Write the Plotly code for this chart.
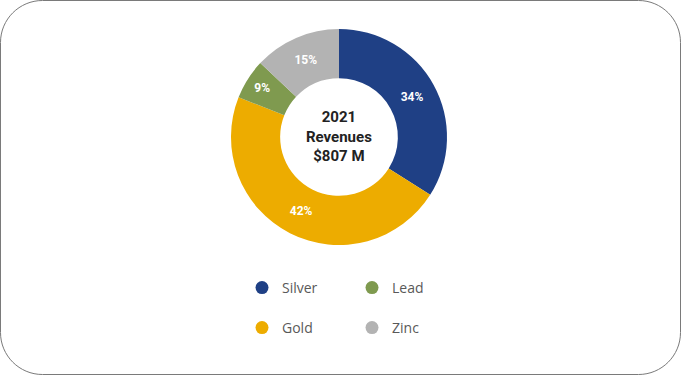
import plotly.graph_objects as go

categories = ["Silver", "Gold", "Lead", "Zinc"]
slice_sizes = [34, 47, 6, 13]          # angular share as drawn in the picture
label_pcts = [34, 42, 9, 15]           # percentages printed on the slices
colors = ["#1F4085", "#EDAC00", "#7F9A4F", "#B3B3B3"]
legend_row1 = ["Silver", "Lead"]
legend_row2 = ["Gold", "Zinc"]
center_text = "2021<br>Revenues<br>$807 M"

W, H = 681, 375
color_of = dict(zip(categories, colors))

fig = go.Figure()
fig.add_trace(go.Pie(
    labels=categories, values=slice_sizes, sort=False, direction="clockwise", rotation=0,
    hole=0.545, marker=dict(colors=colors, line=dict(width=0)),
    text=[f"{p}%" for p in label_pcts], texttemplate="%{text}",
    textposition="inside", insidetextorientation="horizontal",
    textfont=dict(family="Roboto", size=12, color="white", weight="bold"),
    hoverinfo="label+text", showlegend=False,
    domain=dict(x=[0, 2 * 339 / W], y=[1 - (137 + 108) / H, 1 - (137 - 108) / H]),
))

for name in legend_row1:
    fig.add_trace(go.Scatter(x=[None], y=[None], mode="markers", name=name,
                             marker=dict(color=color_of[name], size=13, symbol="circle"),
                             legend="legend"))
for name in legend_row2:
    fig.add_trace(go.Scatter(x=[None], y=[None], mode="markers", name=name,
                             marker=dict(color=color_of[name], size=13, symbol="circle"),
                             legend="legend2"))

leg_common = dict(orientation="h", xanchor="left", yanchor="middle",
                  font=dict(family="Open Sans", size=14, color="#595959"),
                  entrywidth=65, entrywidthmode="pixels", bgcolor="rgba(0,0,0,0)")

# rounded border
r = 42
x0, y0, x1, y1 = 0.5, 0.5, W - 0.5, H - 0.5
c = 0.5523 * r
def px(x):
    return x / W
def py(y):
    return 1 - y / H
path = (f"M {px(x0 + r)},{py(y0)} L {px(x1 - r)},{py(y0)} "
        f"C {px(x1 - r + c)},{py(y0)} {px(x1)},{py(y0 + r - c)} {px(x1)},{py(y0 + r)} "
        f"L {px(x1)},{py(y1 - r)} "
        f"C {px(x1)},{py(y1 - r + c)} {px(x1 - r + c)},{py(y1)} {px(x1 - r)},{py(y1)} "
        f"L {px(x0 + r)},{py(y1)} "
        f"C {px(x0 + r - c)},{py(y1)} {px(x0)},{py(y1 - r + c)} {px(x0)},{py(y1 - r)} "
        f"L {px(x0)},{py(y0 + r)} "
        f"C {px(x0)},{py(y0 + r - c)} {px(x0 + r - c)},{py(y0)} {px(x0 + r)},{py(y0)} Z")

fig.update_layout(
    width=W, height=H, margin=dict(l=0, r=0, t=0, b=0),
    paper_bgcolor="white", plot_bgcolor="white",
    xaxis=dict(visible=False), yaxis=dict(visible=False),
    legend=dict(x=242 / W, y=1 - 288 / H, **leg_common),
    legend2=dict(x=242 / W, y=1 - 328 / H, **leg_common),
    shapes=[dict(type="path", xref="paper", yref="paper", path=path,
                 line=dict(color="#7A7A7A", width=1), layer="above")],
    annotations=[dict(text=center_text, x=339 / W, y=1 - 137 / H, xref="paper", yref="paper",
                      showarrow=False, font=dict(family="Roboto", size=15, color="#222222", weight="bold"),
                      align="center")],
)

fig.write_html("out.html", config={"displayModeBar": False},
               post_script="document.body.style.margin='0';document.body.style.overflow='hidden';")
